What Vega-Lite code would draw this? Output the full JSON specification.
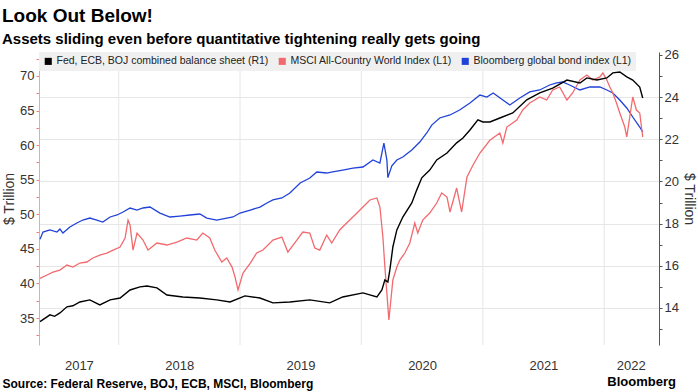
{
"$schema": "https://vega.github.io/schema/vega-lite/v6.json",
"autosize": "none",
"width": 620,
"height": 293,
"padding": {"left": 39, "top": 52, "right": 39, "bottom": 47},
"background": "#ffffff",
"title": {"text": "Look Out Below!", "subtitle": "Assets sliding even before quantitative tightening really gets going", "anchor": "start", "frame": "group", "dx": -37, "offset": 2, "font": "Liberation Sans", "fontSize": 19, "fontWeight": "bold", "color": "#000000", "subtitleFont": "Liberation Sans", "subtitleFontSize": 15, "subtitleFontWeight": "bold", "subtitleColor": "#000000", "subtitlePadding": 6},
"config": {"font": "Liberation Sans", "view": {"stroke": null}},
"data": {"values": [
{"date":"2017-05-09","series":"bs","value":13.35},
{"date":"2017-06-08","series":"bs","value":13.67},
{"date":"2017-06-22","series":"bs","value":13.60},
{"date":"2017-07-08","series":"bs","value":13.76},
{"date":"2017-07-29","series":"bs","value":14.05},
{"date":"2017-08-16","series":"bs","value":14.10},
{"date":"2017-09-06","series":"bs","value":14.28},
{"date":"2017-10-06","series":"bs","value":14.38},
{"date":"2017-11-05","series":"bs","value":14.14},
{"date":"2017-12-06","series":"bs","value":14.38},
{"date":"2018-01-05","series":"bs","value":14.47},
{"date":"2018-02-04","series":"bs","value":14.85},
{"date":"2018-03-06","series":"bs","value":15.00},
{"date":"2018-03-27","series":"bs","value":15.04},
{"date":"2018-04-26","series":"bs","value":14.95},
{"date":"2018-05-26","series":"bs","value":14.61},
{"date":"2018-07-13","series":"bs","value":14.52},
{"date":"2018-09-02","series":"bs","value":14.47},
{"date":"2018-10-23","series":"bs","value":14.38},
{"date":"2018-12-02","series":"bs","value":14.28},
{"date":"2019-01-16","series":"bs","value":14.57},
{"date":"2019-03-02","series":"bs","value":14.47},
{"date":"2019-04-10","series":"bs","value":14.24},
{"date":"2019-05-31","series":"bs","value":14.28},
{"date":"2019-07-30","series":"bs","value":14.38},
{"date":"2019-09-28","series":"bs","value":14.24},
{"date":"2019-11-06","series":"bs","value":14.52},
{"date":"2020-01-06","series":"bs","value":14.71},
{"date":"2020-02-17","series":"bs","value":14.52},
{"date":"2020-03-03","series":"bs","value":14.85},
{"date":"2020-03-12","series":"bs","value":15.33},
{"date":"2020-03-21","series":"bs","value":15.23},
{"date":"2020-03-27","series":"bs","value":15.80},
{"date":"2020-04-05","series":"bs","value":16.89},
{"date":"2020-04-17","series":"bs","value":17.70},
{"date":"2020-05-05","series":"bs","value":18.31},
{"date":"2020-06-01","series":"bs","value":18.98},
{"date":"2020-06-16","series":"bs","value":19.60},
{"date":"2020-07-01","series":"bs","value":20.17},
{"date":"2020-07-25","series":"bs","value":20.54},
{"date":"2020-08-15","series":"bs","value":21.02},
{"date":"2020-09-15","series":"bs","value":21.35},
{"date":"2020-10-14","series":"bs","value":21.83},
{"date":"2020-11-02","series":"bs","value":22.06},
{"date":"2020-11-23","series":"bs","value":22.44},
{"date":"2020-12-17","series":"bs","value":22.92},
{"date":"2021-01-01","series":"bs","value":22.82},
{"date":"2021-01-22","series":"bs","value":22.82},
{"date":"2021-02-21","series":"bs","value":23.01},
{"date":"2021-04-01","series":"bs","value":23.25},
{"date":"2021-05-13","series":"bs","value":23.87},
{"date":"2021-06-21","series":"bs","value":24.20},
{"date":"2021-07-30","series":"bs","value":24.43},
{"date":"2021-09-11","series":"bs","value":24.81},
{"date":"2021-10-20","series":"bs","value":24.67},
{"date":"2021-11-10","series":"bs","value":24.91},
{"date":"2021-12-10","series":"bs","value":24.81},
{"date":"2022-01-09","series":"bs","value":24.91},
{"date":"2022-01-27","series":"bs","value":25.15},
{"date":"2022-02-17","series":"bs","value":25.19},
{"date":"2022-03-10","series":"bs","value":24.96},
{"date":"2022-03-28","series":"bs","value":24.81},
{"date":"2022-04-18","series":"bs","value":24.48},
{"date":"2022-04-27","series":"bs","value":23.96},
{"date":"2017-05-09","series":"msci","value":40.74},
{"date":"2017-05-30","series":"msci","value":41.22},
{"date":"2017-06-17","series":"msci","value":41.65},
{"date":"2017-07-08","series":"msci","value":41.94},
{"date":"2017-07-29","series":"msci","value":42.66},
{"date":"2017-08-16","series":"msci","value":42.37},
{"date":"2017-09-06","series":"msci","value":42.95},
{"date":"2017-09-27","series":"msci","value":43.10},
{"date":"2017-10-15","series":"msci","value":43.68},
{"date":"2017-11-05","series":"msci","value":44.11},
{"date":"2017-11-26","series":"msci","value":44.40},
{"date":"2017-12-15","series":"msci","value":44.83},
{"date":"2018-01-05","series":"msci","value":45.27},
{"date":"2018-01-20","series":"msci","value":46.57},
{"date":"2018-01-29","series":"msci","value":49.17},
{"date":"2018-02-04","series":"msci","value":48.45},
{"date":"2018-02-13","series":"msci","value":44.83},
{"date":"2018-02-25","series":"msci","value":47.29},
{"date":"2018-03-15","series":"msci","value":46.28},
{"date":"2018-03-30","series":"msci","value":44.83},
{"date":"2018-04-26","series":"msci","value":45.85},
{"date":"2018-05-26","series":"msci","value":45.56},
{"date":"2018-06-25","series":"msci","value":45.99},
{"date":"2018-07-25","series":"msci","value":46.57},
{"date":"2018-08-24","series":"msci","value":46.28},
{"date":"2018-09-11","series":"msci","value":47.29},
{"date":"2018-10-02","series":"msci","value":46.57},
{"date":"2018-10-17","series":"msci","value":44.83},
{"date":"2018-11-07","series":"msci","value":43.10},
{"date":"2018-11-22","series":"msci","value":43.68},
{"date":"2018-12-08","series":"msci","value":42.37},
{"date":"2018-12-17","series":"msci","value":40.93},
{"date":"2018-12-26","series":"msci","value":39.05},
{"date":"2019-01-10","series":"msci","value":41.51},
{"date":"2019-02-01","series":"msci","value":42.95},
{"date":"2019-02-20","series":"msci","value":44.40},
{"date":"2019-03-11","series":"msci","value":44.83},
{"date":"2019-04-10","series":"msci","value":46.28},
{"date":"2019-05-07","series":"msci","value":46.71},
{"date":"2019-05-25","series":"msci","value":44.54},
{"date":"2019-06-21","series":"msci","value":46.28},
{"date":"2019-07-09","series":"msci","value":47.44},
{"date":"2019-07-30","series":"msci","value":47.29},
{"date":"2019-08-14","series":"msci","value":45.12},
{"date":"2019-08-29","series":"msci","value":44.83},
{"date":"2019-09-19","series":"msci","value":47.00},
{"date":"2019-10-04","series":"msci","value":45.85},
{"date":"2019-10-28","series":"msci","value":47.73},
{"date":"2019-11-18","series":"msci","value":48.74},
{"date":"2019-12-19","series":"msci","value":50.18},
{"date":"2020-01-06","series":"msci","value":51.05},
{"date":"2020-01-27","series":"msci","value":52.07},
{"date":"2020-02-17","series":"msci","value":52.36},
{"date":"2020-02-26","series":"msci","value":51.05},
{"date":"2020-03-06","series":"msci","value":46.71},
{"date":"2020-03-12","series":"msci","value":42.37},
{"date":"2020-03-18","series":"msci","value":38.61},
{"date":"2020-03-24","series":"msci","value":34.71},
{"date":"2020-04-02","series":"msci","value":39.05},
{"date":"2020-04-05","series":"msci","value":40.50},
{"date":"2020-04-17","series":"msci","value":42.37},
{"date":"2020-04-26","series":"msci","value":43.39},
{"date":"2020-05-11","series":"msci","value":44.40},
{"date":"2020-05-26","series":"msci","value":45.85},
{"date":"2020-06-10","series":"msci","value":48.74},
{"date":"2020-06-19","series":"msci","value":47.29},
{"date":"2020-07-04","series":"msci","value":49.17},
{"date":"2020-07-25","series":"msci","value":50.18},
{"date":"2020-08-15","series":"msci","value":51.63},
{"date":"2020-08-30","series":"msci","value":53.08},
{"date":"2020-09-15","series":"msci","value":52.50},
{"date":"2020-09-24","series":"msci","value":50.33},
{"date":"2020-10-14","series":"msci","value":53.80},
{"date":"2020-10-29","series":"msci","value":50.33},
{"date":"2020-11-14","series":"msci","value":55.39},
{"date":"2020-12-02","series":"msci","value":57.10},
{"date":"2020-12-23","series":"msci","value":58.86},
{"date":"2021-01-22","series":"msci","value":60.70},
{"date":"2021-02-21","series":"msci","value":61.76},
{"date":"2021-03-02","series":"msci","value":60.31},
{"date":"2021-03-14","series":"msci","value":62.62},
{"date":"2021-04-13","series":"msci","value":63.64},
{"date":"2021-05-01","series":"msci","value":65.08},
{"date":"2021-05-22","series":"msci","value":66.09},
{"date":"2021-06-21","series":"msci","value":66.96},
{"date":"2021-07-12","series":"msci","value":66.53},
{"date":"2021-07-30","series":"msci","value":67.98},
{"date":"2021-08-20","series":"msci","value":68.41},
{"date":"2021-09-11","series":"msci","value":66.53},
{"date":"2021-09-28","series":"msci","value":67.54},
{"date":"2021-10-20","series":"msci","value":69.42},
{"date":"2021-11-10","series":"msci","value":70.14},
{"date":"2021-11-28","series":"msci","value":69.42},
{"date":"2021-12-19","series":"msci","value":69.86},
{"date":"2021-12-28","series":"msci","value":70.43},
{"date":"2022-01-09","series":"msci","value":69.42},
{"date":"2022-01-18","series":"msci","value":68.41},
{"date":"2022-01-27","series":"msci","value":67.54},
{"date":"2022-02-07","series":"msci","value":66.09},
{"date":"2022-02-17","series":"msci","value":64.65},
{"date":"2022-03-04","series":"msci","value":62.62},
{"date":"2022-03-10","series":"msci","value":61.18},
{"date":"2022-03-19","series":"msci","value":64.07},
{"date":"2022-03-28","series":"msci","value":66.96},
{"date":"2022-04-08","series":"msci","value":65.08},
{"date":"2022-04-18","series":"msci","value":64.65},
{"date":"2022-04-27","series":"msci","value":61.18},
{"date":"2017-05-09","series":"bond","value":46.38},
{"date":"2017-05-18","series":"bond","value":47.44},
{"date":"2017-06-08","series":"bond","value":47.73},
{"date":"2017-06-29","series":"bond","value":47.44},
{"date":"2017-07-08","series":"bond","value":47.87},
{"date":"2017-07-17","series":"bond","value":47.29},
{"date":"2017-08-07","series":"bond","value":48.16},
{"date":"2017-08-28","series":"bond","value":48.74},
{"date":"2017-09-15","series":"bond","value":49.17},
{"date":"2017-10-06","series":"bond","value":49.46},
{"date":"2017-10-27","series":"bond","value":49.17},
{"date":"2017-11-14","series":"bond","value":48.88},
{"date":"2017-12-06","series":"bond","value":49.61},
{"date":"2017-12-27","series":"bond","value":49.90},
{"date":"2018-01-14","series":"bond","value":50.33},
{"date":"2018-02-04","series":"bond","value":50.91},
{"date":"2018-02-25","series":"bond","value":50.62},
{"date":"2018-03-15","series":"bond","value":50.91},
{"date":"2018-04-05","series":"bond","value":51.05},
{"date":"2018-05-05","series":"bond","value":50.18},
{"date":"2018-06-04","series":"bond","value":49.61},
{"date":"2018-07-04","series":"bond","value":49.75},
{"date":"2018-08-03","series":"bond","value":49.90},
{"date":"2018-09-02","series":"bond","value":50.04},
{"date":"2018-09-23","series":"bond","value":49.46},
{"date":"2018-10-23","series":"bond","value":49.17},
{"date":"2018-11-22","series":"bond","value":49.46},
{"date":"2018-12-11","series":"bond","value":49.61},
{"date":"2019-01-01","series":"bond","value":50.18},
{"date":"2019-02-01","series":"bond","value":50.62},
{"date":"2019-03-02","series":"bond","value":51.05},
{"date":"2019-03-23","series":"bond","value":51.63},
{"date":"2019-04-10","series":"bond","value":52.07},
{"date":"2019-05-07","series":"bond","value":52.36},
{"date":"2019-05-31","series":"bond","value":53.08},
{"date":"2019-07-01","series":"bond","value":54.52},
{"date":"2019-07-30","series":"bond","value":55.25},
{"date":"2019-08-20","series":"bond","value":56.12},
{"date":"2019-09-19","series":"bond","value":55.97},
{"date":"2019-10-07","series":"bond","value":56.12},
{"date":"2019-11-06","series":"bond","value":56.40},
{"date":"2019-12-07","series":"bond","value":56.69},
{"date":"2020-01-06","series":"bond","value":56.84},
{"date":"2020-02-05","series":"bond","value":57.85},
{"date":"2020-02-26","series":"bond","value":57.42},
{"date":"2020-03-09","series":"bond","value":60.31},
{"date":"2020-03-18","series":"bond","value":57.85},
{"date":"2020-03-21","series":"bond","value":55.30},
{"date":"2020-04-02","series":"bond","value":57.00},
{"date":"2020-04-17","series":"bond","value":57.85},
{"date":"2020-05-05","series":"bond","value":58.28},
{"date":"2020-06-01","series":"bond","value":59.30},
{"date":"2020-06-25","series":"bond","value":60.45},
{"date":"2020-07-16","series":"bond","value":61.76},
{"date":"2020-07-31","series":"bond","value":62.90},
{"date":"2020-08-24","series":"bond","value":63.93},
{"date":"2020-09-24","series":"bond","value":64.36},
{"date":"2020-10-23","series":"bond","value":65.08},
{"date":"2020-11-23","series":"bond","value":66.09},
{"date":"2020-12-23","series":"bond","value":67.25},
{"date":"2021-01-13","series":"bond","value":66.96},
{"date":"2021-02-01","series":"bond","value":67.54},
{"date":"2021-03-02","series":"bond","value":66.53},
{"date":"2021-03-23","series":"bond","value":65.81},
{"date":"2021-04-22","series":"bond","value":66.82},
{"date":"2021-05-22","series":"bond","value":67.69},
{"date":"2021-06-21","series":"bond","value":67.98},
{"date":"2021-07-21","series":"bond","value":68.70},
{"date":"2021-08-11","series":"bond","value":68.99},
{"date":"2021-08-29","series":"bond","value":69.13},
{"date":"2021-09-19","series":"bond","value":68.70},
{"date":"2021-10-20","series":"bond","value":67.98},
{"date":"2021-11-19","series":"bond","value":68.41},
{"date":"2021-12-19","series":"bond","value":68.41},
{"date":"2022-01-09","series":"bond","value":67.98},
{"date":"2022-01-27","series":"bond","value":67.54},
{"date":"2022-02-17","series":"bond","value":66.53},
{"date":"2022-03-10","series":"bond","value":65.37},
{"date":"2022-03-28","series":"bond","value":64.07},
{"date":"2022-04-18","series":"bond","value":62.62},
{"date":"2022-04-27","series":"bond","value":61.90}
]},
"layer": [
  {"data": {"values": [{"date": "2018-01-01"}, {"date": "2019-01-01"}, {"date": "2020-01-01"}, {"date": "2021-01-01"}, {"date": "2022-01-01"}]},
   "mark": {"type": "rule", "strokeWidth": 1, "color": "#e6e6e6"},
   "encoding": {
     "x": {"field": "date", "type": "temporal",
       "scale": {"type": "utc", "domain": [{"year": 2017, "month": 5, "date": 6, "utc": true}, {"year": 2022, "month": 6, "date": 15, "utc": true}]},
       "axis": {"values": [{"year": 2017, "month": 9, "date": 3, "utc": true}, {"year": 2018, "month": 7, "date": 2, "utc": true}, {"year": 2019, "month": 7, "date": 2, "utc": true}, {"year": 2020, "month": 7, "date": 2, "utc": true}, {"year": 2021, "month": 7, "date": 2, "utc": true}, {"year": 2022, "month": 3, "date": 22, "utc": true}],
         "labelExpr": "utcFormat(datum.value, '%Y')", "ticks": false, "domain": false, "grid": false, "labelFlush": false, "labelOverlap": false,
         "labelFontSize": 13, "labelColor": "#333333", "labelPadding": 14,
         "title": "Source: Federal Reserve, BOJ, ECB, MSCI, Bloomberg", "titleFontSize": 12, "titleFontWeight": "bold", "titleColor": "#000000",
         "titleAnchor": "start", "titleAlign": "left", "titleX": -37, "titleY": 38, "titleBaseline": "middle"}}}},
  {"layer": [
    {"transform": [{"filter": "datum.series == 'bond'"}], "mark": {"type": "line", "strokeWidth": 1.3}},
    {"transform": [{"filter": "datum.series == 'msci'"}], "mark": {"type": "line", "strokeWidth": 1.3}}
   ],
   "encoding": {
     "x": {"field": "date", "type": "temporal", "scale": {"type": "utc"}},
     "color": {"field": "series", "type": "nominal",
       "scale": {"domain": ["bs", "msci", "bond"], "range": ["#000000", "#f26a6e", "#2142d8"]},
       "legend": {"orient": "top-left", "offset": 0, "direction": "horizontal", "title": null, "fillColor": "#f0f0f0", "padding": 4,
         "symbolType": "square", "symbolSize": 50, "symbolStrokeWidth": 0, "labelFontSize": 10.5, "labelColor": "#222222", "labelOffset": 3, "columnPadding": 8, "labelLimit": 400,
         "labelExpr": "datum.label == 'bs' ? 'Fed, ECB, BOJ combined balance sheet (R1)' : datum.label == 'msci' ? 'MSCI All-Country World Index (L1)' : 'Bloomberg global bond index (L1)'",
         "encode": {"symbols": {"update": {"fill": {"scale": "color", "field": "value"}, "stroke": {"value": "transparent"}}}}}},
     "y": {"field": "value", "type": "quantitative",
     "scale": {"domain": [31.1, 73.47], "nice": false, "zero": false},
     "axis": {"orient": "left", "values": [32.5, 35, 37.5, 40, 42.5, 45, 47.5, 50, 52.5, 55, 57.5, 60, 62.5, 65, 67.5, 70, 72.5],
       "labelExpr": "datum.value % 5 == 0 ? datum.label : ''", "grid": false, "domainColor": "#f4a3a3", "tickColor": "#f07f7f", "tickSize": 3,
       "labelFontSize": 13, "labelColor": "#333333", "labelPadding": 2,
       "title": "$ Trillion", "titleFontSize": 14, "titleFontWeight": "normal", "titleColor": "#333333", "titlePadding": 3}}}},
  {"layer": [
    {"transform": [{"filter": "datum.series == 'bs'"}], "mark": {"type": "line", "strokeWidth": 1.4},
     "encoding": {
       "x": {"field": "date", "type": "temporal", "scale": {"type": "utc"}},
       "color": {"field": "series", "type": "nominal", "scale": {"domain": ["bs", "msci", "bond"], "range": ["#000000", "#f26a6e", "#2142d8"]}},
       "y": {"field": "value", "type": "quantitative",
       "scale": {"domain": [12.24, 26.14], "nice": false, "zero": false},
       "axis": {"orient": "right", "values": [13, 14, 15, 16, 17, 18, 19, 20, 21, 22, 23, 24, 25, 26],
         "labelExpr": "datum.value % 2 == 0 ? datum.label : ''", "grid": true, "gridColor": "#e6e6e6",
         "gridOpacity": {"condition": {"test": "datum.value % 2 == 0 && datum.value < 26", "value": 1}, "value": 0},
         "domainColor": "#555555", "tickColor": "#555555", "tickSize": 3,
         "labelFontSize": 13, "labelColor": "#333333", "labelPadding": 2,
         "title": "$ Trillion", "titleFontSize": 14, "titleFontWeight": "normal", "titleColor": "#333333", "titlePadding": 3}}}},
    {"data": {"values": [{"t": "Bloomberg"}]},
     "mark": {"type": "text", "align": "right", "baseline": "middle", "fontSize": 13, "fontWeight": "bold", "font": "Liberation Sans", "color": "#000000"},
     "encoding": {
       "x": {"datum": {"year": 2022, "month": 8, "date": 5, "utc": true}, "type": "temporal", "scale": {"type": "utc"},
         "axis": {"values": [{"year": 2017, "month": 9, "date": 3, "utc": true}, {"year": 2018, "month": 7, "date": 2, "utc": true}, {"year": 2019, "month": 7, "date": 2, "utc": true}, {"year": 2020, "month": 7, "date": 2, "utc": true}, {"year": 2021, "month": 7, "date": 2, "utc": true}, {"year": 2022, "month": 3, "date": 22, "utc": true}],
         "labelExpr": "utcFormat(datum.value, '%Y')", "ticks": false, "domain": false, "grid": false, "labelFlush": false, "labelOverlap": false,
         "labelFontSize": 13, "labelColor": "#333333", "labelPadding": 14,
         "title": "Source: Federal Reserve, BOJ, ECB, MSCI, Bloomberg", "titleFontSize": 12, "titleFontWeight": "bold", "titleColor": "#000000",
         "titleAnchor": "start", "titleAlign": "left", "titleX": -37, "titleY": 38, "titleBaseline": "middle"}},
       "y": {"datum": 10.5, "type": "quantitative",
         "axis": {"orient": "right", "values": [13, 14, 15, 16, 17, 18, 19, 20, 21, 22, 23, 24, 25, 26],
         "labelExpr": "datum.value % 2 == 0 ? datum.label : ''", "grid": true, "gridColor": "#e6e6e6",
         "gridOpacity": {"condition": {"test": "datum.value % 2 == 0 && datum.value < 26", "value": 1}, "value": 0},
         "domainColor": "#555555", "tickColor": "#555555", "tickSize": 3,
         "labelFontSize": 13, "labelColor": "#333333", "labelPadding": 2,
         "title": "$ Trillion", "titleFontSize": 14, "titleFontWeight": "normal", "titleColor": "#333333", "titlePadding": 3}},
       "text": {"field": "t"}}}
  ]}
],
"resolve": {"scale": {"y": "independent"}}
}
